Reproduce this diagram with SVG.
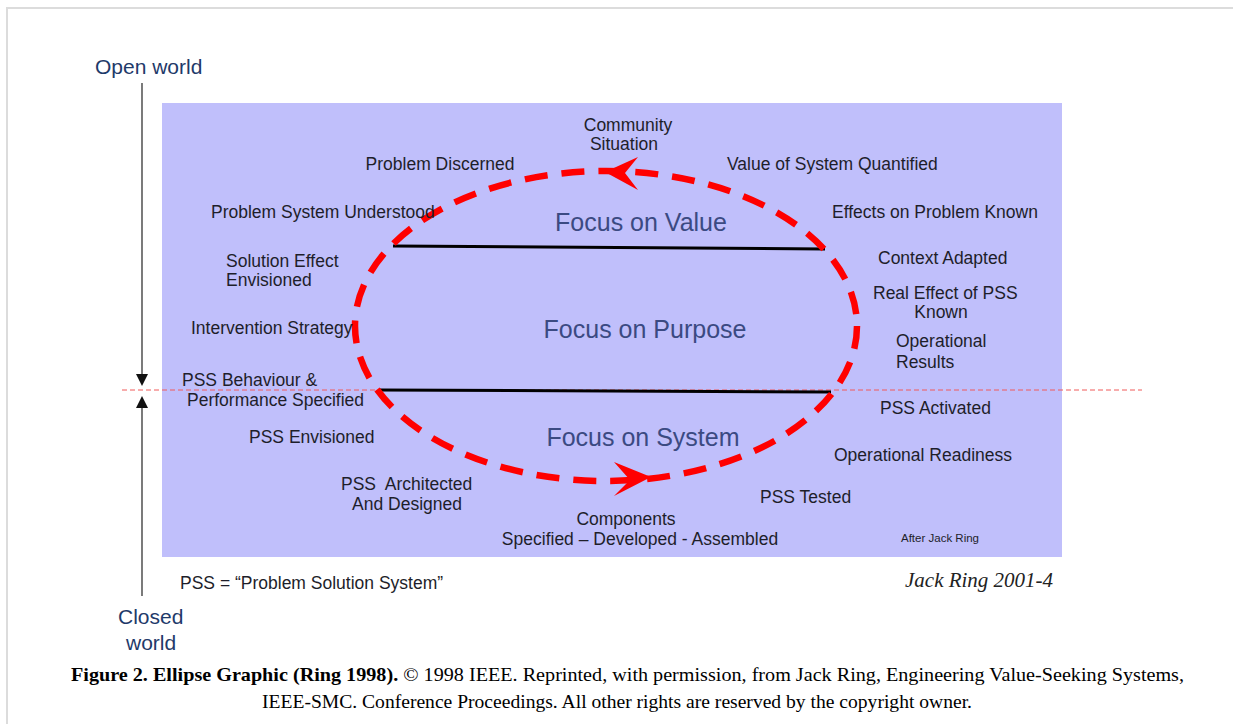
<svg xmlns="http://www.w3.org/2000/svg" width="1233" height="724" viewBox="0 0 1233 724">
<style>
.t{font-family:"Liberation Sans",Arial,sans-serif;font-size:17.5px;fill:#1e1e2a}
.f{font-family:"Liberation Sans",Arial,sans-serif;font-size:25px;fill:#3b4a82}
.w{font-family:"Liberation Sans",Arial,sans-serif;font-size:21px;fill:#1f3a6a}
.c{font-family:"Liberation Serif","Times New Roman",serif;font-size:19px;fill:#000}
.m{text-anchor:middle}
</style>
<rect width="1233" height="724" fill="#fff"/>
<path d="M7,724 V8 H1233" fill="none" stroke="#dcdcdc" stroke-width="2"/>
<rect id="panel" x="162" y="103" width="900" height="454" fill="#c0bffb"/>
<g id="axis">
<line x1="142" y1="83" x2="142" y2="376" stroke="#333" stroke-width="1.3"/>
<path d="M136,374 L148,374 L142,386 Z" fill="#111"/>
<line x1="142" y1="406" x2="142" y2="596" stroke="#333" stroke-width="1.3"/>
<path d="M136,408 L148,408 L142,396 Z" fill="#111"/>
<line x1="122" y1="390" x2="1142" y2="390" stroke="#f05a5a" stroke-width="1" stroke-dasharray="5 3"/>
</g>
<g id="connectors">
<line x1="393" y1="246" x2="825" y2="249" stroke="#000" stroke-width="3"/>
<line x1="380" y1="390" x2="831" y2="392" stroke="#000" stroke-width="3"/>
<ellipse cx="606" cy="326" rx="251" ry="155" fill="none" stroke="#ff0000" stroke-width="6.5" stroke-dasharray="23 14"/>
<path d="M605,172 L638,157 L625,173 L638,190 Z" fill="#ff0000"/>
<path d="M651,477 L614,462 L630,480 L614,496 Z" fill="#ff0000"/>
</g>
<g id="labels">
<text class="t m" x="628" y="131">Community</text>
<text class="t m" x="624" y="150">Situation</text>
<text class="t m" x="440" y="170">Problem Discerned</text>
<text class="t" x="727" y="170">Value of System Quantified</text>
<text class="t" x="211" y="218">Problem System Understood</text>
<text class="t" x="832" y="218">Effects on Problem Known</text>
<text class="t" x="226" y="267">Solution Effect</text>
<text class="t" x="226" y="286">Envisioned</text>
<text class="t" x="878" y="264">Context Adapted</text>
<text class="t" x="873" y="299">Real Effect of PSS</text>
<text class="t m" x="941" y="318">Known</text>
<text class="t" x="191" y="334">Intervention Strategy</text>
<text class="t" x="896" y="347">Operational</text>
<text class="t" x="896" y="368">Results</text>
<text class="t" x="182" y="386">PSS Behaviour &amp;</text>
<text class="t" x="187" y="406">Performance Specified</text>
<text class="t" x="880" y="414">PSS Activated</text>
<text class="t" x="249" y="443">PSS Envisioned</text>
<text class="t" x="834" y="461">Operational Readiness</text>
<text class="t" x="341" y="490" xml:space="preserve">PSS  Architected</text>
<text class="t m" x="407" y="510">And Designed</text>
<text class="t" x="760" y="503">PSS Tested</text>
<text class="t m" x="626" y="525">Components</text>
<text class="t m" x="640" y="545">Specified – Developed - Assembled</text>
<text class="t" x="901" y="542" style="font-size:11.5px">After Jack Ring</text>
<text class="f m" x="641" y="231">Focus on Value</text>
<text class="f m" x="645" y="338">Focus on Purpose</text>
<text class="f m" x="643" y="446">Focus on System</text>
<text class="t" x="180" y="589">PSS = “Problem Solution System”</text>
<text x="905" y="587" style="font-family:'Liberation Serif','Times New Roman',serif;font-style:italic;font-size:21px;fill:#222">Jack Ring 2001-4</text>
<text class="w" x="95" y="74">Open world</text>
<text class="w" x="118" y="624">Closed</text>
<text class="w" x="126" y="650">world</text>
</g>
<g id="caption">
<text class="c" x="71" y="681" textLength="1113" lengthAdjust="spacingAndGlyphs"><tspan font-weight="bold">Figure 2. Ellipse Graphic (Ring 1998).</tspan> © 1998 IEEE. Reprinted, with permission, from Jack Ring, Engineering Value-Seeking Systems,</text>
<text class="c" x="262" y="708" textLength="710" lengthAdjust="spacingAndGlyphs">IEEE-SMC. Conference Proceedings. All other rights are reserved by the copyright owner.</text>
</g>
</svg>
